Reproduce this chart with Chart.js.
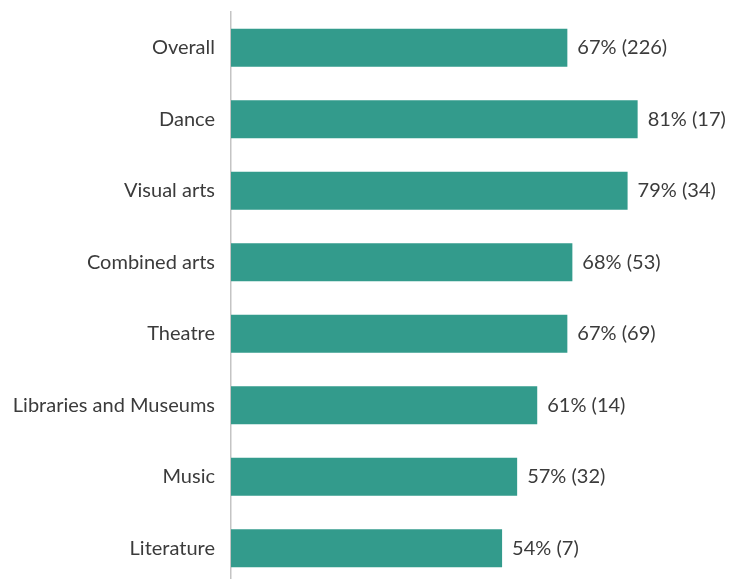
<!DOCTYPE html>
<html>
<head>
<meta charset="utf-8">
<script src="https://cdn.jsdelivr.net/npm/chart.js@4/dist/chart.umd.min.js"></script>
<style>
  html, body { margin: 0; padding: 0; background: #fff; overflow: hidden; }
  /* the last row runs a few pixels past the bottom of the window */
  #wrap { width: 729px; height: 584px; }
</style>
</head>
<body>
<div id="wrap"><canvas id="artsChart"></canvas></div>
<script>
const categories = [
  'Overall',
  'Dance',
  'Visual arts',
  'Combined arts',
  'Theatre',
  'Libraries and Museums',
  'Music',
  'Literature',
]
const percentValues = [67, 81, 79, 68, 67, 61, 57, 54]
const countValues = [226, 17, 34, 53, 69, 14, 32, 7]

const barColor = '#339b8c'
const textColor = '#3b3b3b'
const fontFamily = 'Lato, "Open Sans", sans-serif'

// writes "67% (226)" just past the end of each bar
const valueLabels = {
  id: 'valueLabels',
  afterDatasetsDraw(chart) {
    const ctx = chart.ctx
    const meta = chart.getDatasetMeta(0)
    ctx.save()
    ctx.font = '20px ' + fontFamily
    ctx.fillStyle = textColor
    ctx.textAlign = 'left'
    ctx.textBaseline = 'middle'
    meta.data.forEach((bar, i) => {
      ctx.fillText(percentValues[i] + '% (' + countValues[i] + ')', bar.x + 10, bar.y)
    })
    ctx.restore()
  },
}

const ctx = document.getElementById('artsChart').getContext('2d')
new Chart(ctx, {
  type: 'bar',
  data: {
    labels: categories,
    datasets: [
      {
        data: percentValues,
        backgroundColor: barColor,
        borderWidth: 0,
        barPercentage: 0.53,
        categoryPercentage: 1,
      },
    ],
  },
  options: {
    indexAxis: 'y',
    responsive: true,
    maintainAspectRatio: false,
    animation: false,
    layout: { padding: { top: 12, bottom: 0, left: 0, right: 0 } },
    scales: {
      x: {
        display: false,
        min: 0,
        max: 99.2,
      },
      y: {
        afterFit: (scale) => {
          // fixed label column; tick padding should not eat vertical room
          scale.width = 231
          scale.paddingTop = 0
          scale.paddingBottom = 0
        },
        grid: { display: false, drawTicks: false },
        border: { display: true, color: '#c4c4c4', width: 1.5 },
        ticks: {
          padding: 16,
          color: textColor,
          font: { family: fontFamily, size: 20 },
        },
      },
    },
    plugins: {
      legend: { display: false },
      tooltip: { enabled: false },
    },
  },
  plugins: [valueLabels],
})
</script>
</body>
</html>
